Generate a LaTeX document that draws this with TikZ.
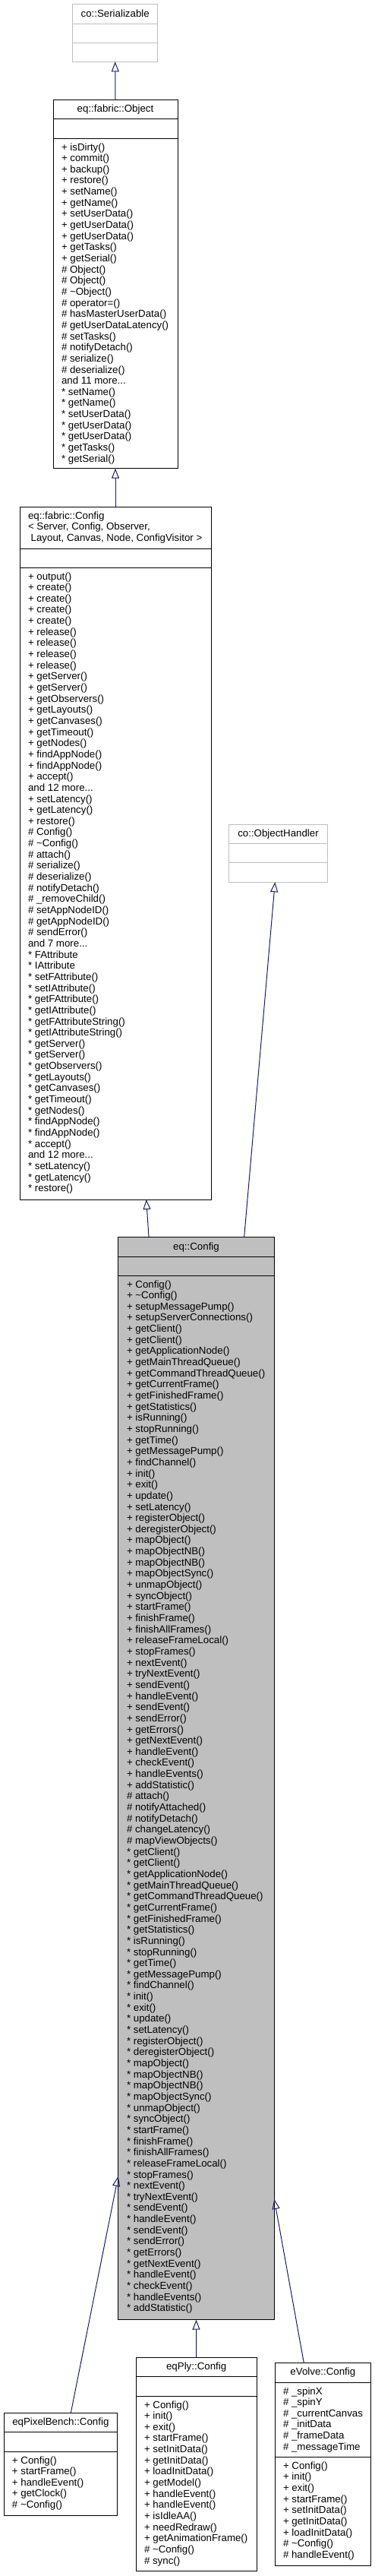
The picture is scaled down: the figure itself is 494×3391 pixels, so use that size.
\documentclass[tikz,border=0pt]{standalone}
\usepackage{fontspec}
\setmainfont{Liberation Sans}
\usetikzlibrary{arrows.meta}
\definecolor{edgeblue}{HTML}{191970}
\definecolor{grey75}{HTML}{BFBFBF}
\newcommand\mlist[1]{\begin{tabular}[t]{@{}l@{}}#1\end{tabular}}
\newcommand\tld{\textasciitilde}
\tikzset{
 box/.style={draw=black, line width=1pt, inner sep=0pt, outer sep=0pt, anchor=north west, fill=white},
 extbox/.style={box, draw=grey75},
 mainbox/.style={box, fill=grey75},
 div/.style={line width=1pt, draw=black},
 extdiv/.style={line width=1pt, draw=grey75},
 txt/.style={inner sep=0pt, outer sep=0pt, font=\fontsize{13.3}{14.65}\selectfont, text=black},
 title/.style={txt, anchor=base},
 members/.style={txt, anchor=base west},
 inh/.style={draw=edgeblue, line width=1pt, -{Triangle[open, length=13pt, width=10pt, line width=1pt]}},
}
\begin{document}
\begin{tikzpicture}[x=1pt, y=-1pt]
\useasboundingbox (0,0) rectangle (494,3391);

% ---------- co::Serializable
\node[extbox, minimum width=112pt, minimum height=75.6pt] (ser) at (95.7,5.7) {};
\draw[extdiv] (95.7,31.7) -- (207.7,31.7);
\draw[extdiv] (95.7,56.7) -- (207.7,56.7);
\node[title] (ser-t) at (151.7,22.5) {co::Serializable};

% ---------- eq::fabric::Object
\node[box, minimum width=164pt, minimum height=485.7pt] (obj) at (70,131) {};
\draw[div] (70,156) -- (234,156);
\draw[div] (70,182) -- (234,182);
\node[title] (obj-t) at (152,147.5) {eq::fabric::Object};
\node[members] (obj-m) at (81,198) {\mlist{%
+ isDirty()\\+ commit()\\+ backup()\\+ restore()\\+ setName()\\+ getName()\\+ setUserData()\\+ getUserData()\\+ getUserData()\\+ getTasks()\\+ getSerial()\\%
\# Object()\\\# Object()\\\# \tld Object()\\\# operator=()\\\# hasMasterUserData()\\\# getUserDataLatency()\\\# setTasks()\\\# notifyDetach()\\\# serialize()\\\# deserialize()\\%
and 11 more...\\%
{*} setName()\\{*} getName()\\{*} setUserData()\\{*} getUserData()\\{*} getUserData()\\{*} getTasks()\\{*} getSerial()}};

% ---------- eq::fabric::Config
\node[box, minimum width=252pt, minimum height=912pt] (fcfg) at (26,667) {};
\draw[div] (26,722) -- (278,722);
\draw[div] (26,747) -- (278,747);
\node[members] (fcfg-t) at (37,683) {\mlist{eq::fabric::Config\\< Server, Config, Observer,\\\ Layout, Canvas, Node, ConfigVisitor >}};
\node[members] (fcfg-m) at (37,763) {\mlist{%
+ output()\\+ create()\\+ create()\\+ create()\\+ create()\\+ release()\\+ release()\\+ release()\\+ release()\\+ getServer()\\+ getServer()\\+ getObservers()\\+ getLayouts()\\+ getCanvases()\\+ getTimeout()\\+ getNodes()\\+ findAppNode()\\+ findAppNode()\\+ accept()\\%
and 12 more...\\%
+ setLatency()\\+ getLatency()\\+ restore()\\%
\# Config()\\\# \tld Config()\\\# attach()\\\# serialize()\\\# deserialize()\\\# notifyDetach()\\\# \_removeChild()\\\# setAppNodeID()\\\# getAppNodeID()\\\# sendError()\\%
and 7 more...\\%
{*} FAttribute\\{*} IAttribute\\{*} setFAttribute()\\{*} setIAttribute()\\{*} getFAttribute()\\{*} getIAttribute()\\{*} getFAttributeString()\\{*} getIAttributeString()\\{*} getServer()\\{*} getServer()\\{*} getObservers()\\{*} getLayouts()\\{*} getCanvases()\\{*} getTimeout()\\{*} getNodes()\\{*} findAppNode()\\{*} findAppNode()\\{*} accept()\\%
and 12 more...\\%
{*} setLatency()\\{*} getLatency()\\{*} restore()}};

% ---------- co::ObjectHandler
\node[extbox, minimum width=129.6pt, minimum height=76.3pt] (oh) at (301.7,1085) {};
\draw[extdiv] (301.7,1110.7) -- (431.3,1110.7);
\draw[extdiv] (301.7,1135.7) -- (431.3,1135.7);
\node[title] (oh-t) at (366.5,1101.5) {co::ObjectHandler};

% ---------- eq::Config
\node[mainbox, minimum width=205.6pt, minimum height=1425.7pt] (eqc) at (155.7,1628) {};
\draw[div] (155.7,1654) -- (361.3,1654);
\draw[div] (155.7,1679) -- (361.3,1679);
\node[title] (eqc-t) at (258.5,1645) {eq::Config};
\node[members] (eqc-m) at (167,1695) {\mlist{%
+ Config()\\+ \tld Config()\\+ setupMessagePump()\\+ setupServerConnections()\\+ getClient()\\+ getClient()\\+ getApplicationNode()\\+ getMainThreadQueue()\\+ getCommandThreadQueue()\\+ getCurrentFrame()\\+ getFinishedFrame()\\+ getStatistics()\\+ isRunning()\\+ stopRunning()\\%
+ getTime()\\+ getMessagePump()\\+ findChannel()\\+ init()\\+ exit()\\+ update()\\+ setLatency()\\+ registerObject()\\+ deregisterObject()\\+ mapObject()\\+ mapObjectNB()\\+ mapObjectNB()\\+ mapObjectSync()\\+ unmapObject()\\+ syncObject()\\+ startFrame()\\+ finishFrame()\\+ finishAllFrames()\\+ releaseFrameLocal()\\+ stopFrames()\\+ nextEvent()\\+ tryNextEvent()\\%
+ sendEvent()\\+ handleEvent()\\+ sendEvent()\\+ sendError()\\+ getErrors()\\+ getNextEvent()\\+ handleEvent()\\+ checkEvent()\\+ handleEvents()\\+ addStatistic()\\%
\# attach()\\\# notifyAttached()\\\# notifyDetach()\\\# changeLatency()\\\# mapViewObjects()\\%
{*} getClient()\\{*} getClient()\\{*} getApplicationNode()\\{*} getMainThreadQueue()\\{*} getCommandThreadQueue()\\{*} getCurrentFrame()\\{*} getFinishedFrame()\\{*} getStatistics()\\{*} isRunning()\\{*} stopRunning()\\%
{*} getTime()\\{*} getMessagePump()\\{*} findChannel()\\{*} init()\\{*} exit()\\{*} update()\\{*} setLatency()\\{*} registerObject()\\{*} deregisterObject()\\{*} mapObject()\\{*} mapObjectNB()\\{*} mapObjectNB()\\{*} mapObjectSync()\\{*} unmapObject()\\{*} syncObject()\\{*} startFrame()\\{*} finishFrame()\\{*} finishAllFrames()\\{*} releaseFrameLocal()\\{*} stopFrames()\\{*} nextEvent()\\{*} tryNextEvent()\\%
{*} sendEvent()\\{*} handleEvent()\\{*} sendEvent()\\{*} sendError()\\{*} getErrors()\\{*} getNextEvent()\\{*} handleEvent()\\{*} checkEvent()\\{*} handleEvents()\\{*} addStatistic()}};

% ---------- eqPixelBench::Config
\node[box, minimum width=149.7pt, minimum height=134.7pt] (pb) at (5,3176.3) {};
\draw[div] (5,3201.7) -- (154.7,3201.7);
\draw[div] (5,3227) -- (154.7,3227);
\node[title] (pb-t) at (79.85,3192.8) {eqPixelBench::Config};
\node[members] (pb-m) at (16,3243) {\mlist{+ Config()\\+ startFrame()\\+ handleEvent()\\+ getClock()\\\# \tld Config()}};

% ---------- eqPly::Config
\node[box, minimum width=158.7pt, minimum height=281.4pt] (ply) at (179.3,3103.3) {};
\draw[div] (179.3,3128.3) -- (338,3128.3);
\draw[div] (179.3,3154) -- (338,3154);
\node[title] (ply-t) at (258.65,3119.8) {eqPly::Config};
\node[members] (ply-m) at (190,3170) {\mlist{+ Config()\\+ init()\\+ exit()\\+ startFrame()\\+ setInitData()\\+ getInitData()\\+ loadInitData()\\+ getModel()\\+ handleEvent()\\+ handleEvent()\\+ isIdleAA()\\+ needRedraw()\\+ getAnimationFrame()\\\# \tld Config()\\\# sync()}};

% ---------- eVolve::Config
\node[box, minimum width=126.7pt, minimum height=267pt] (ev) at (362,3110.3) {};
\draw[div] (362,3136) -- (488.7,3136);
\draw[div] (362,3234.3) -- (488.7,3234.3);
\node[title] (ev-t) at (425.35,3126.8) {eVolve::Config};
\node[members] (ev-a) at (373,3152) {\mlist{\# \_spinX\\\# \_spinY\\\# \_currentCanvas\\\# \_initData\\\# \_frameData\\\# \_messageTime}};
\node[members] (ev-m) at (373,3250.3) {\mlist{+ Config()\\+ init()\\+ exit()\\+ startFrame()\\+ setInitData()\\+ getInitData()\\+ loadInitData()\\\# \tld Config()\\\# handleEvent()}};

% ---------- inheritance connectors
\draw[inh] (obj.north) -- (ser.south);
\draw[inh] (fcfg.north) -- (obj.south);
\draw[inh] ([xshift=40.3pt]eqc.north west) -- ([xshift=166.7pt]fcfg.south west);
\draw[inh] ([xshift=166pt]eqc.north west) -- ([xshift=-4.2pt]oh.south);
\draw[inh] ([xshift=88.3pt]pb.north west) -- ([yshift=188.8pt]eqc.south west);
\draw[inh] (ply.north) -- (eqc.south);
\draw[inh] ([xshift=38.3pt]ev.north west) -- ([yshift=158.7pt]eqc.south east);
\end{tikzpicture}
\end{document}
